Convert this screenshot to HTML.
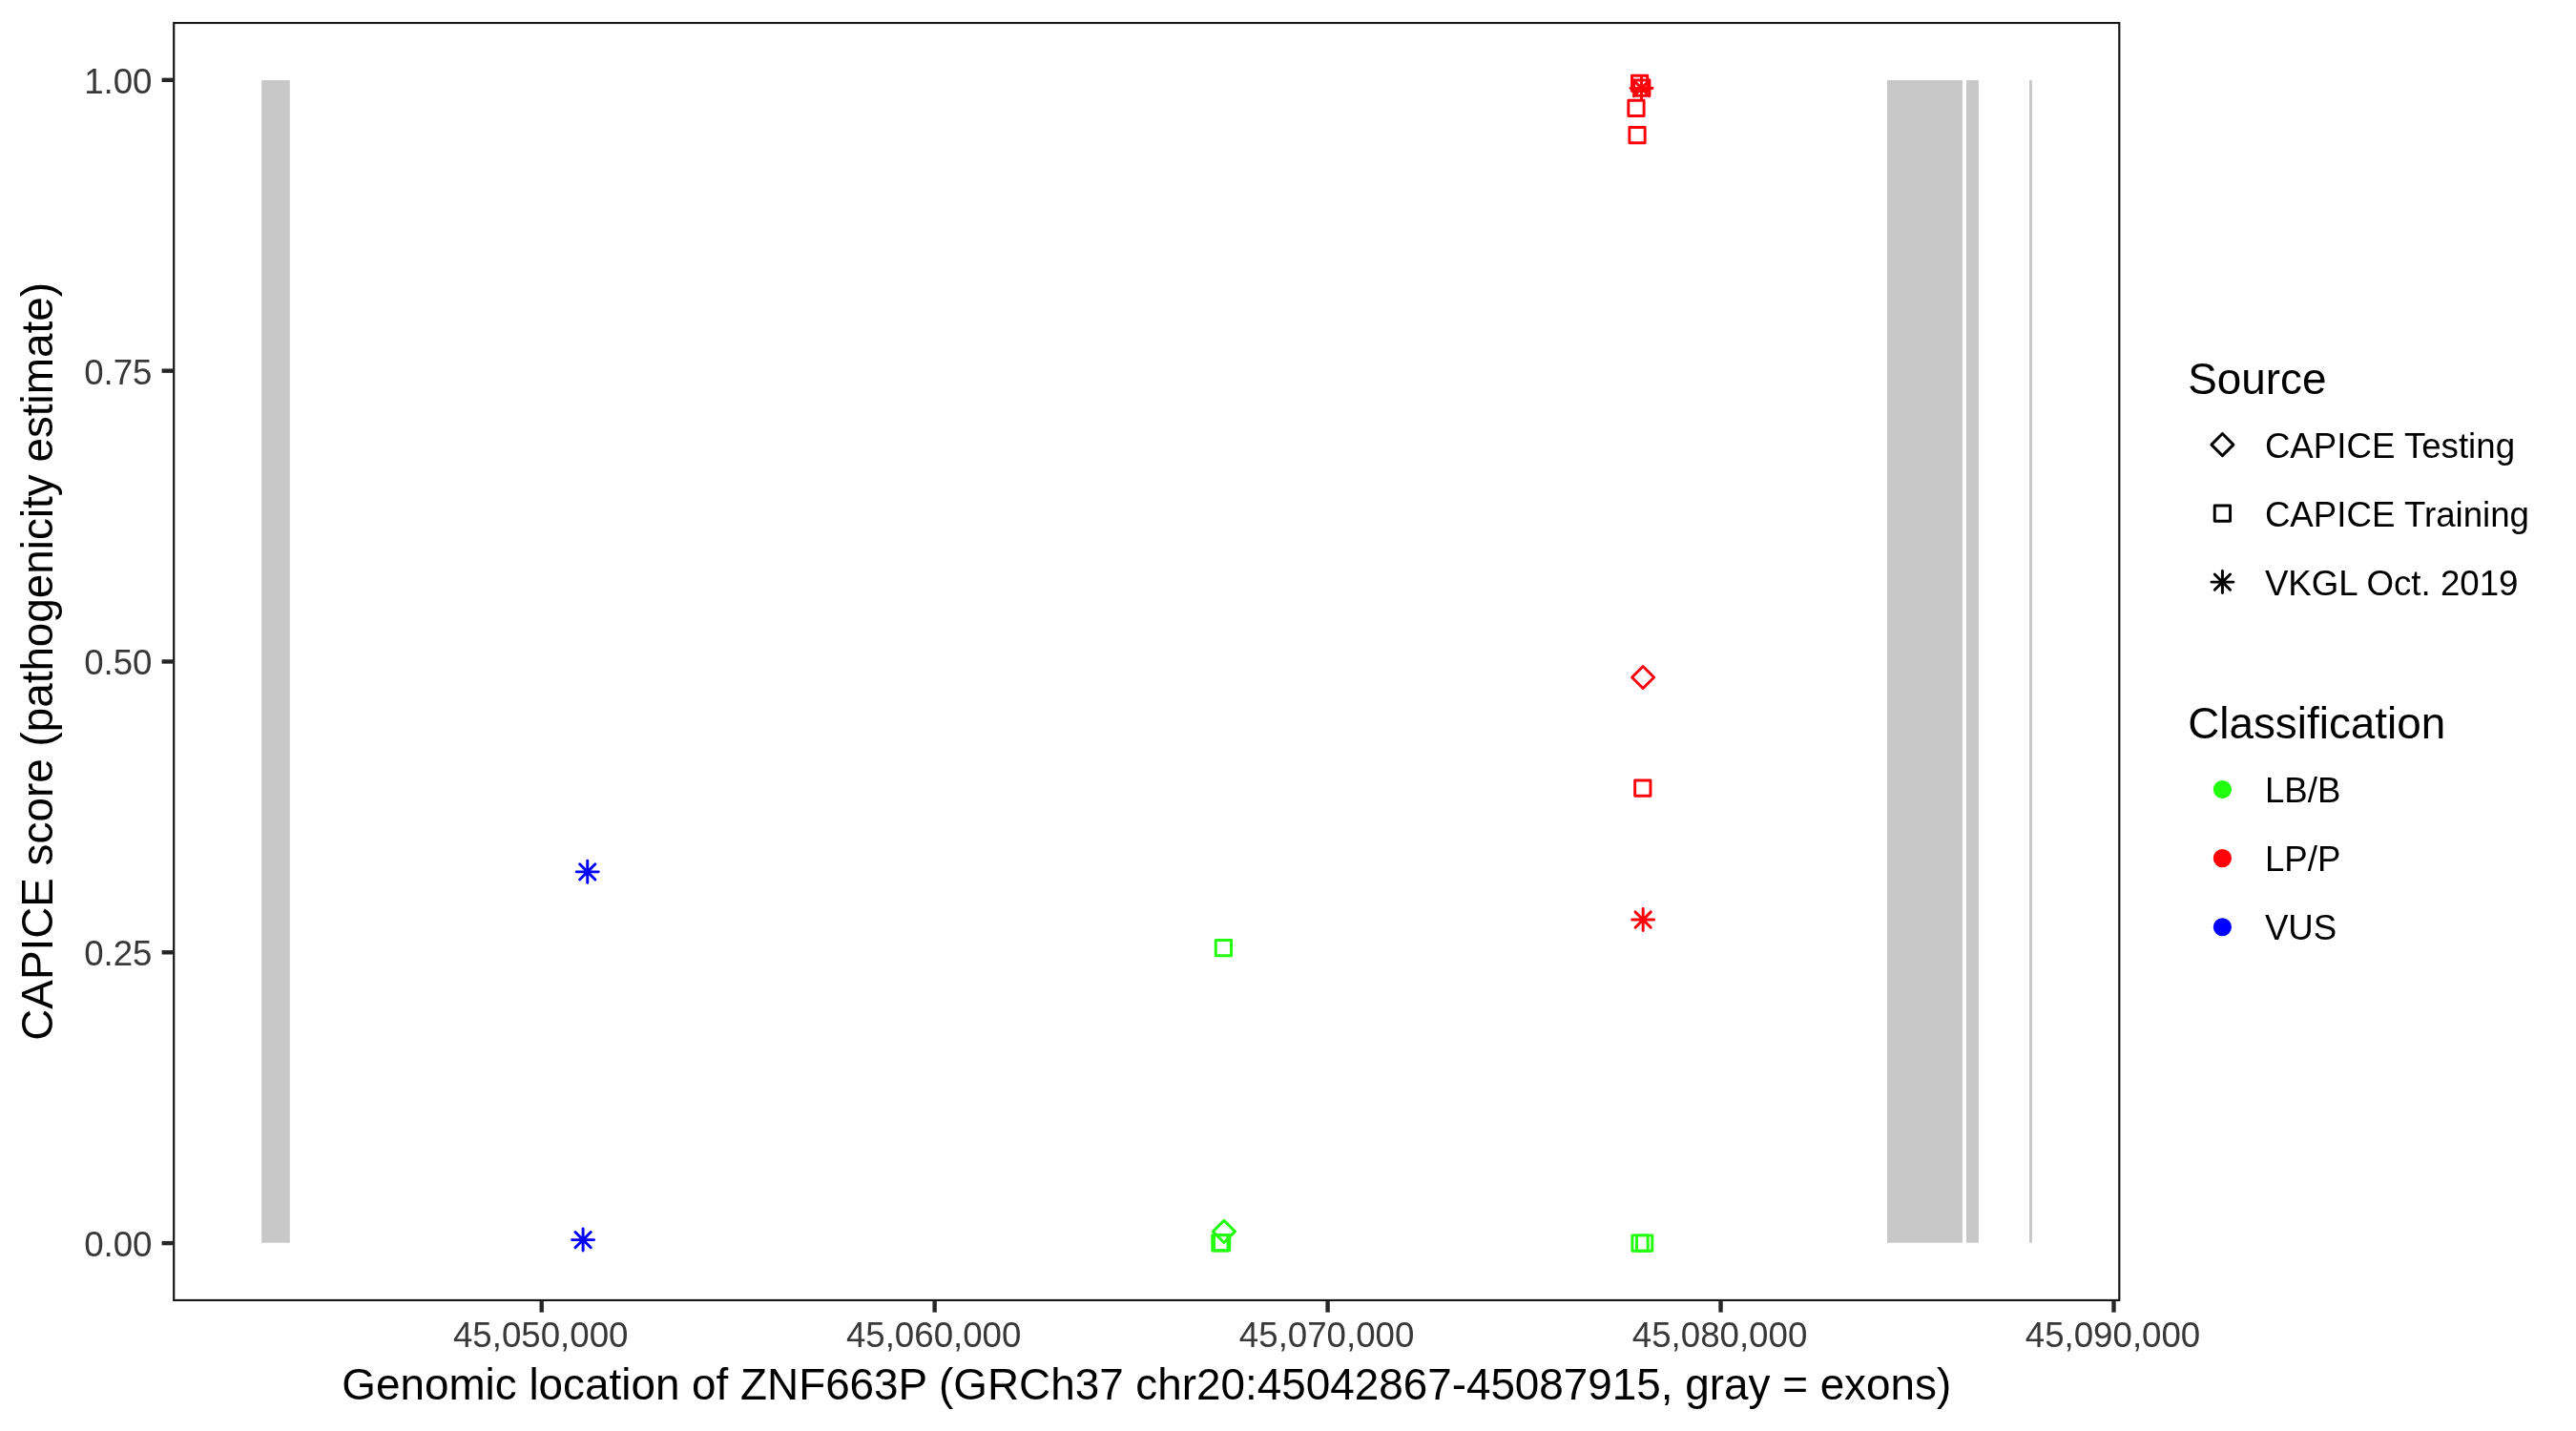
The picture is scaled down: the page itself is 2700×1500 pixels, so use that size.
<!DOCTYPE html>
<html><head><meta charset="utf-8"><title>CAPICE plot</title>
<style>
html,body{margin:0;padding:0;background:#fff;width:2700px;height:1500px;overflow:hidden}
svg{display:block;will-change:transform}
text{font-family:"Liberation Sans",sans-serif}
.tk{font-size:36.67px;fill:#383838}
.at{font-size:45.83px;fill:#000}
.lt{font-size:45.83px;fill:#000}
.ll{font-size:36.67px;fill:#000}
</style></head>
<body>
<svg width="2700" height="1500" viewBox="0 0 2700 1500">
<rect x="0" y="0" width="2700" height="1500" fill="#ffffff"/>
<defs><clipPath id="pc"><rect x="181.1" y="22.9" width="2041.30" height="1341.16"/></clipPath></defs>
<g clip-path="url(#pc)">
<rect x="274.2" y="84.1" width="29.60" height="1218.60" fill="#c8c8c8"/>
<rect x="1978.0" y="84.1" width="78.90" height="1218.60" fill="#c8c8c8"/>
<rect x="2061.0" y="84.1" width="12.90" height="1218.60" fill="#c8c8c8"/>
<rect x="2127.0" y="84.1" width="2.90" height="1218.60" fill="#c8c8c8"/>
<rect x="1274.26" y="985.46" width="16.29" height="16.29" fill="none" stroke="#22ff0e" stroke-width="2.95" stroke-linejoin="round"/>
<path d="M1282.90 1279.38L1294.42 1290.90L1282.90 1302.42L1271.38 1290.90Z" fill="none" stroke="#22ff0e" stroke-width="2.95" stroke-linejoin="round"/>
<rect x="1270.76" y="1294.65" width="16.29" height="16.29" fill="none" stroke="#22ff0e" stroke-width="2.95" stroke-linejoin="round"/>
<rect x="1272.45" y="1294.45" width="16.29" height="16.29" fill="none" stroke="#22ff0e" stroke-width="2.95" stroke-linejoin="round"/>
<rect x="1710.86" y="1294.86" width="16.29" height="16.29" fill="none" stroke="#22ff0e" stroke-width="2.95" stroke-linejoin="round"/>
<rect x="1715.51" y="1294.86" width="16.29" height="16.29" fill="none" stroke="#22ff0e" stroke-width="2.95" stroke-linejoin="round"/>
<path d="M604.23 913.86H627.27M615.75 902.34V925.38M607.61 905.72L623.89 922.00M607.61 922.00L623.89 905.72" fill="none" stroke="#0000ff" stroke-width="2.95" stroke-linecap="round"/>
<path d="M599.58 1299.60H622.62M611.10 1288.08V1311.12M602.96 1291.45L619.25 1307.74M602.96 1307.74L619.25 1291.45" fill="none" stroke="#0000ff" stroke-width="2.95" stroke-linecap="round"/>
<rect x="1710.45" y="79.16" width="16.29" height="16.29" fill="none" stroke="#fc0309" stroke-width="2.95" stroke-linejoin="round"/>
<rect x="1712.65" y="83.95" width="16.29" height="16.29" fill="none" stroke="#fc0309" stroke-width="2.95" stroke-linejoin="round"/>
<path d="M1708.98 92.50H1732.02M1720.50 80.98V104.02M1712.36 84.36L1728.64 100.64M1712.36 100.64L1728.64 84.36" fill="none" stroke="#fc0309" stroke-width="2.95" stroke-linecap="round"/>
<rect x="1706.81" y="105.26" width="16.29" height="16.29" fill="none" stroke="#fc0309" stroke-width="2.95" stroke-linejoin="round"/>
<rect x="1707.86" y="133.55" width="16.29" height="16.29" fill="none" stroke="#fc0309" stroke-width="2.95" stroke-linejoin="round"/>
<path d="M1722.10 698.48L1733.62 710.00L1722.10 721.52L1710.58 710.00Z" fill="none" stroke="#fc0309" stroke-width="2.95" stroke-linejoin="round"/>
<rect x="1713.65" y="817.96" width="16.29" height="16.29" fill="none" stroke="#fc0309" stroke-width="2.95" stroke-linejoin="round"/>
<path d="M1710.63 964.04H1733.67M1722.15 952.52V975.56M1714.01 955.89L1730.30 972.18M1714.01 972.18L1730.30 955.89" fill="none" stroke="#fc0309" stroke-width="2.95" stroke-linecap="round"/>
<rect x="181.1" y="22.9" width="2041.30" height="1341.16" fill="none" stroke="#161616" stroke-width="4.4"/>
</g>
<line x1="169.6" y1="1303.10" x2="181.1" y2="1303.10" stroke="#262626" stroke-width="4.4"/>
<text x="159.5" y="1317.00" text-anchor="end" class="tk">0.00</text>
<line x1="169.6" y1="998.29" x2="181.1" y2="998.29" stroke="#262626" stroke-width="4.4"/>
<text x="159.5" y="1012.19" text-anchor="end" class="tk">0.25</text>
<line x1="169.6" y1="693.47" x2="181.1" y2="693.47" stroke="#262626" stroke-width="4.4"/>
<text x="159.5" y="707.37" text-anchor="end" class="tk">0.50</text>
<line x1="169.6" y1="388.66" x2="181.1" y2="388.66" stroke="#262626" stroke-width="4.4"/>
<text x="159.5" y="402.56" text-anchor="end" class="tk">0.75</text>
<line x1="169.6" y1="83.85" x2="181.1" y2="83.85" stroke="#262626" stroke-width="4.4"/>
<text x="159.5" y="97.75" text-anchor="end" class="tk">1.00</text>
<line x1="567.70" y1="1364.06" x2="567.70" y2="1375.6" stroke="#262626" stroke-width="4.4"/>
<text x="566.70" y="1412" text-anchor="middle" class="tk">45,050,000</text>
<line x1="979.65" y1="1364.06" x2="979.65" y2="1375.6" stroke="#262626" stroke-width="4.4"/>
<text x="978.65" y="1412" text-anchor="middle" class="tk">45,060,000</text>
<line x1="1391.60" y1="1364.06" x2="1391.60" y2="1375.6" stroke="#262626" stroke-width="4.4"/>
<text x="1390.60" y="1412" text-anchor="middle" class="tk">45,070,000</text>
<line x1="1803.55" y1="1364.06" x2="1803.55" y2="1375.6" stroke="#262626" stroke-width="4.4"/>
<text x="1802.55" y="1412" text-anchor="middle" class="tk">45,080,000</text>
<line x1="2215.50" y1="1364.06" x2="2215.50" y2="1375.6" stroke="#262626" stroke-width="4.4"/>
<text x="2214.50" y="1412" text-anchor="middle" class="tk">45,090,000</text>
<text x="1201.75" y="1467.3" text-anchor="middle" class="at">Genomic location of ZNF663P (GRCh37 chr20:45042867-45087915, gray = exons)</text>
<text transform="translate(54.7 693.4) rotate(-90)" x="0" y="0" text-anchor="middle" class="at">CAPICE score (pathogenicity estimate)</text>
<text x="2293.2" y="413.0" class="lt">Source</text>
<path d="M2329.40 454.58L2340.92 466.10L2329.40 477.62L2317.88 466.10Z" fill="none" stroke="#000000" stroke-width="2.95" stroke-linejoin="round"/>
<text x="2373.9" y="480.40" class="ll">CAPICE Testing</text>
<rect x="2321.26" y="529.96" width="16.29" height="16.29" fill="none" stroke="#000000" stroke-width="2.95" stroke-linejoin="round"/>
<text x="2373.9" y="552.40" class="ll">CAPICE Training</text>
<path d="M2317.88 610.10H2340.92M2329.40 598.58V621.62M2321.26 601.96L2337.55 618.25M2321.26 618.25L2337.55 601.96" fill="none" stroke="#000000" stroke-width="2.95" stroke-linecap="round"/>
<text x="2373.9" y="624.40" class="ll">VKGL Oct. 2019</text>
<text x="2293.2" y="774.0" class="lt">Classification</text>
<circle cx="2329.40" cy="827.55" r="8.14" fill="#22ff0e" stroke="#22ff0e" stroke-width="2.95"/>
<text x="2373.9" y="840.75" class="ll">LB/B</text>
<circle cx="2329.40" cy="899.65" r="8.14" fill="#fc0309" stroke="#fc0309" stroke-width="2.95"/>
<text x="2373.9" y="912.85" class="ll">LP/P</text>
<circle cx="2329.40" cy="971.75" r="8.14" fill="#0000ff" stroke="#0000ff" stroke-width="2.95"/>
<text x="2373.9" y="984.95" class="ll">VUS</text>
</svg>
</body></html>
